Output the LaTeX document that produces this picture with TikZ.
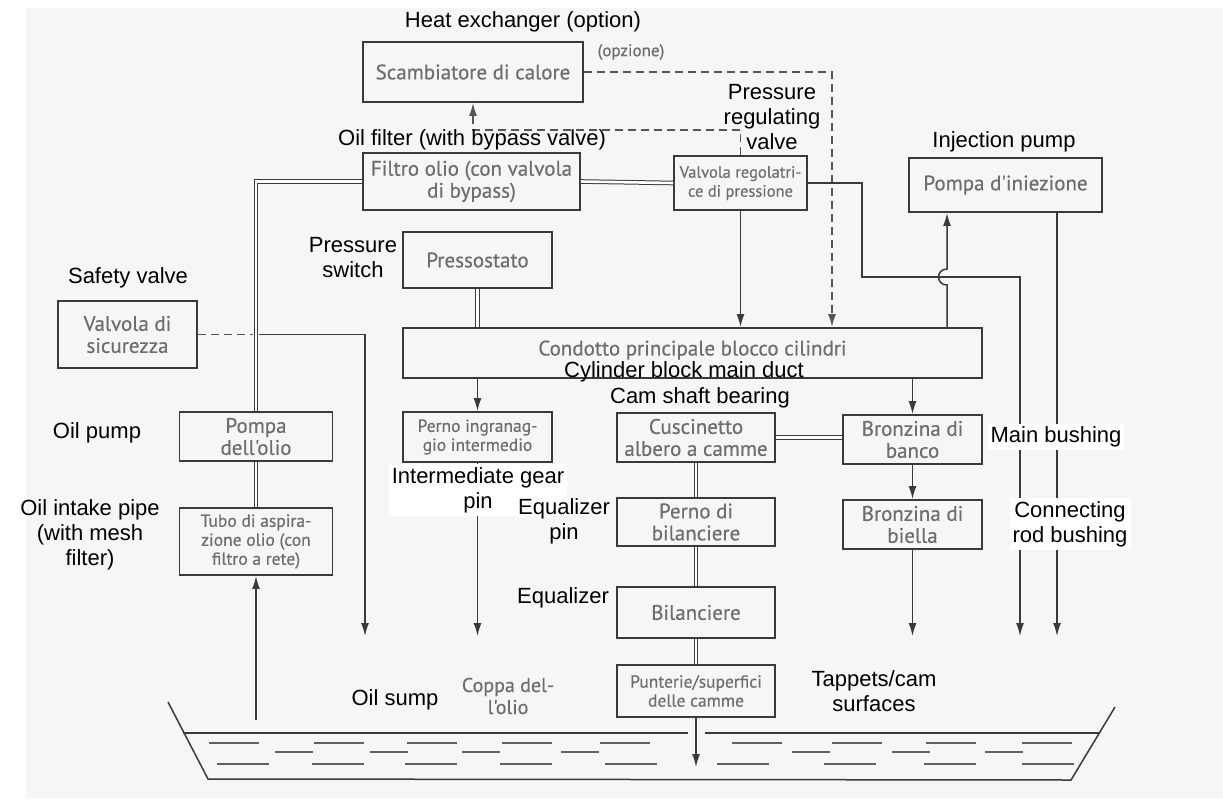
\documentclass[tikz,border=0pt]{standalone}
\usepackage{fontspec}
\usepackage{xcolor}
\usepackage{tikz}
\usetikzlibrary{arrows.meta,calc}
\newfontfamily\engfont{Liberation Sans}
\newfontfamily\itafont[FakeBold=0.5]{PT Sans}
\definecolor{linec}{HTML}{3A3A3A}
\definecolor{txtc}{HTML}{6E6E6E}
\definecolor{dashc}{HTML}{555555}
\definecolor{paper}{HTML}{F6F6F4}

\tikzset{
  box/.style={draw=linec,line width=1.9pt,text=txtc,align=center,inner sep=0pt,
    font=\itafont\fontsize{21}{22}\selectfont},
  ita/.style={text=txtc,align=center,inner sep=0pt,font=\itafont\fontsize{20}{22}\selectfont},
  lbl/.style={align=center,inner sep=1pt,font=\engfont\fontsize{22}{25}\selectfont},
  wlbl/.style={lbl,fill=white,inner sep=3pt},
  pipe/.style={draw=linec,line width=1.5pt},
  arr/.style={pipe,-{Latex[length=13pt,width=8pt]}},
  dbl/.style={draw=linec,line width=1pt,double=white,double distance=2.6pt},
  dsh/.style={draw=dashc,line width=1.7pt,dash pattern=on 8pt off 5pt},
  liq/.style={draw=linec!80,line width=1.3pt}
}

\begin{document}
\begin{tikzpicture}[x=1pt,y=-1pt]
  \useasboundingbox (0,0) rectangle (1223,803);
  \fill[paper] (26,8) rectangle (1223,798);

  % boxes
  \node[box,minimum width=220pt,minimum height=60pt] (scamb) at (473,72) {Scambiatore di calore};
  \node[box,minimum width=217pt,minimum height=57pt] (filtro) at (471.5,181.5) {Filtro olio (con valvola\\di bypass)};
  \node[box,minimum width=133pt,minimum height=54pt,font=\itafont\fontsize{16.5}{19}\selectfont] (valvola) at (740.5,183) {Valvola regolatri-\\ce di pressione};
  \node[box,minimum width=193pt,minimum height=54pt] (iniez) at (1005.5,185) {Pompa d'iniezione};
  \node[box,minimum width=149pt,minimum height=56pt] (presso) at (477.5,260) {Pressostato};
  \node[box,minimum width=579pt,minimum height=50pt] (condotto) at (692.5,353) {\raisebox{10pt}{Condotto principale blocco cilindri}};
  \node[box,minimum width=139pt,minimum height=67pt] (sicur) at (127.5,334.5) {Valvola di\\sicurezza};
  \node[box,minimum width=153pt,minimum height=49pt] (pompa) at (256,436.5) {Pompa\\dell'olio};
  \node[box,minimum width=153pt,minimum height=67pt,font=\itafont\fontsize{17.5}{19}\selectfont] (tubo) at (256,541.5) {Tubo di aspira-\\zione olio (con\\filtro a rete)};
  \node[box,minimum width=149pt,minimum height=50pt,font=\itafont\fontsize{17.5}{19}\selectfont] (pernoingr) at (477.5,437) {Perno ingranag-\\gio intermedio};
  \node[box,minimum width=158pt,minimum height=49pt] (cusc) at (696,437.5) {Cuscinetto\\albero a camme};
  \node[box,minimum width=139pt,minimum height=49pt] (banco) at (912.5,439.5) {Bronzina di\\banco};
  \node[box,minimum width=139pt,minimum height=49pt] (biella) at (912.5,524.5) {Bronzina di\\biella};
  \node[box,minimum width=158pt,minimum height=48pt] (pernobil) at (696,522) {Perno di\\bilanciere};
  \node[box,minimum width=158pt,minimum height=51pt] (bilanc) at (696,612.5) {Bilanciere};
  \node[box,minimum width=158pt,minimum height=52pt,font=\itafont\fontsize{17.5}{19}\selectfont] (punt) at (696,691) {Punterie/superfici\\delle camme};
  \node[ita,font=\itafont\fontsize{17}{19}\selectfont] (opz) at (631,52) {(opzione)};
  \node[ita] (coppa) at (508,696) {Coppa del-\\l'olio};

  % free ends
  \coordinate (dcorner) at (832,72);
  \coordinate (r1) at (862,277);
  \coordinate (r2) at (1020,636);
  \coordinate (hopA) at (947,285);
  \coordinate (hopB) at (947,269);
  \coordinate (ip) at (1057,636);
  \coordinate (tee) at (256,334.5);
  \coordinate (sv) at (365,636);
  \coordinate (ig) at (477.5,636);
  \coordinate (bb) at (912.5,636);
  \coordinate (pu) at (696,767);
  \coordinate (pipein) at (256,720);

  % oil lines
  \draw[dsh,-{Latex[length=13pt,width=8pt]}] (scamb.east) -- (dcorner) -- (dcorner |- condotto.north);
  \draw[dsh,-{Latex[length=13pt,width=8pt]}] (valvola.north) -- ++(0,-25) -| (scamb.south);
  \draw[dbl] (filtro.east) -- (valvola.west);
  \draw[dbl] (filtro.west) -| (pompa.north);
  \draw[dbl] (pompa.south) -- (tubo.north);
  \draw[arr] (pipein) -- (tubo.south);
  \draw[arr] (valvola.south) -- (valvola.south |- condotto.north);
  \draw[arr] (valvola.east) -| (r1) -| (r2);
  \draw[arr] (hopA |- condotto.north) -- (hopA) to[out=180,in=180,looseness=1.8] (hopB) -- (hopB |- iniez.south);
  \draw[arr] (ip |- iniez.south) -- (ip);
  \draw[dbl] (presso.south) -- (presso.south |- condotto.north);
  \draw[dsh] (sicur.east) -- ($(tee)+(-3,0)$);
  \draw[arr] ($(tee)+(2.5,0)$) -| (sv);
  \draw[arr] (pernoingr.north |- condotto.south) -- (pernoingr.north);
  \draw[arr] (pernoingr.south) -- (ig);
  \draw[arr] (banco.north |- condotto.south) -- (banco.north);
  \draw[arr] (banco.south) -- (biella.north);
  \draw[arr] (biella.south) -- (bb);
  \draw[dbl] (cusc.east) -- (cusc.east -| banco.west);
  \draw[dbl] (cusc.south) -- (pernobil.north);
  \draw[dbl] (pernobil.south) -- (bilanc.north);
  \draw[dbl] (bilanc.south) -- (punt.north);
  \draw[arr] (punt.south) -- (pu);

  % sump
  \draw[pipe] (168,702) -- (208,779) -- (1071,780) -- (1115,707);
  \draw[pipe,line width=1.3pt] (183,733) -- (688,733) (705,733) -- (1099,733);
  \foreach \x in {209,314,407,502,600,732,832,926,1022}{
    \draw[liq] (\x,743) -- ++(50,0);
  }
  \foreach \x in {275,370,462,561,792,892,985}{
    \draw[liq] (\x,752) -- ++(38,0);
  }
  \foreach \x in {217,312,405,500,605,717,824,924,1022}{
    \draw[liq] (\x,764) -- ++(52,0);
  }

  % english labels
  \node[lbl] (heat) at (523,22) {Heat exchanger (option)};
  \node[lbl] (oilfilter) at (472,140) {Oil filter (with bypass valve)};
  \node[lbl] (preg) at (772,117) {Pressure\\regulating\\valve};
  \node[lbl] (injection) at (1004,142) {Injection pump};
  \node[lbl] (pswitch) at (353,258) {Pressure\\switch};
  \node[lbl] (safety) at (128,278) {Safety valve};
  \node[lbl] (duct) at (684,372) {Cylinder block main duct};
  \node[lbl] (camshaft) at (700,398) {Cam shaft bearing};
  \node[lbl] (oilpump) at (97,433) {Oil pump};
  \node[wlbl] (intgear) at (478,490) {Intermediate gear\\pin};
  \node[lbl] (eqpin) at (564,521) {Equalizer\\pin};
  \node[wlbl] (mainbush) at (1056,437) {Main bushing};
  \node[wlbl] (conrod) at (1070,524) {Connecting\\rod bushing};
  \node[lbl] (intake) at (90,535) {Oil intake pipe\\(with mesh\\filter)};
  \node[lbl] (equalizer) at (563,598) {Equalizer};
  \node[lbl] (tappets) at (874,691) {Tappets/cam\\surfaces};
  \node[lbl] (oilsump) at (395,700) {Oil sump};
\end{tikzpicture}
\end{document}
